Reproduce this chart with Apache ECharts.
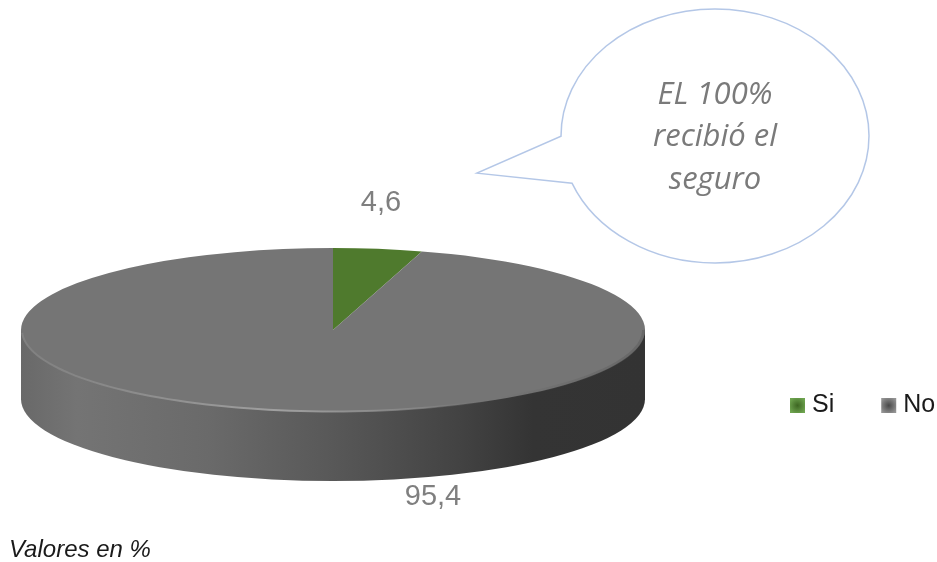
<!DOCTYPE html>
<html><head><meta charset="utf-8">
<style>html,body{margin:0;padding:0;background:#fff}#c{width:937px;height:562px}</style>
<script src="https://cdn.jsdelivr.net/npm/echarts@6/dist/echarts.min.js"></script>
</head><body><div id="c"></div>
<script>
const categories = ['Si', 'No'];
const values = [4.6, 95.4];
const valueLabels = ['4,6', '95,4'];
const sliceColors = ['#4f7a2d', '#757575'];
const bubbleLines = ['EL 100%', 'recibió el', 'seguro'];
const footnote = 'Valores en %';

const layout = {cx: 333, cy: 330, rx: 312, ry: 82, depth: 69};
const labelAt = [[381, 203], [433, 497]];
const total = values.reduce((a, b) => a + b, 0);
const LG = echarts.graphic.LinearGradient, RG = echarts.graphic.RadialGradient;

function sideFill() {
  return new LG(0, 0, 1, 0, [
    {offset: 0, color: '#696969'}, {offset: 0.09, color: '#747474'},
    {offset: 0.3, color: '#6a6a6a'}, {offset: 0.5, color: '#585858'},
    {offset: 0.7, color: '#434343'}, {offset: 0.82, color: '#343434'},
    {offset: 1, color: '#333333'}
  ]);
}
function rimPoints(rx, ry, from, to) {
  const pts = [];
  for (let a = from; a >= to; a -= 2) {
    const t = a * Math.PI / 180;
    pts.push([layout.cx + rx * Math.cos(t), layout.cy + ry * Math.sin(t)]);
  }
  return pts;
}
function sliceItem(i) {
  return function (params, api) {
    const v = api.value(0);
    const before = values.slice(0, i).reduce((a, b) => a + b, 0);
    const start = -Math.PI / 2 + before / total * 2 * Math.PI;
    const end = start + v / total * 2 * Math.PI;
    const {cx, cy, rx, ry, depth} = layout;
    const k = ry / rx;
    const children = [];
    if (i === 1) {
      children.push({type: 'group', x: cx, y: cy + depth, scaleY: k, children: [
        {type: 'sector', shape: {cx: 0, cy: 0, r: rx, r0: 0, startAngle: 0, endAngle: Math.PI}, style: {fill: sideFill()}}
      ]});
      children.push({type: 'rect', shape: {x: cx - rx, y: cy, width: 2 * rx, height: depth + 1}, style: {fill: sideFill()}});
    }
    children.push({type: 'group', x: cx, y: cy, scaleY: k, children: [
      {type: 'sector', shape: {cx: 0, cy: 0, r: rx, r0: 0, startAngle: start, endAngle: end}, style: {fill: sliceColors[i]}}
    ]});
    if (i === 1) {
      children.push({type: 'polyline', shape: {points: rimPoints(rx - 1, ry - 0.5, 178, 60)}, style: {
        fill: null, lineWidth: 2,
        stroke: new LG(0, 0, 1, 0, [
          {offset: 0, color: 'rgba(150,150,150,0.35)'},
          {offset: 0.55, color: 'rgba(165,165,165,0.9)'},
          {offset: 0.85, color: 'rgba(150,150,150,0.5)'},
          {offset: 1, color: 'rgba(120,120,120,0)'}
        ])
      }});
      children.push({type: 'polyline', shape: {points: rimPoints(rx - 1.5, ry - 1, 58, 0)}, style: {
        fill: null, lineWidth: 3,
        stroke: new LG(0, 0, 1, 0, [
          {offset: 0, color: 'rgba(90,90,90,0)'},
          {offset: 1, color: 'rgba(90,90,90,0.5)'}
        ])
      }});
    }
    children.push({type: 'text', style: {
      x: labelAt[i][0], y: labelAt[i][1], text: valueLabels[i], align: 'center', verticalAlign: 'middle',
      font: '29px "Liberation Sans"', fill: '#7f7f7f'
    }});
    return {type: 'group', children};
  };
}
function bubbleItem() {
  return {type: 'group', children: [
    {type: 'path', shape: {pathData: 'M561 137 A154 127 0 1 1 572 184 L477 174 Z', x: 477, y: 9, width: 392, height: 254, layout: 'cover'},
      style: {fill: '#ffffff', stroke: '#b4c7e7', lineWidth: 1.5}},
    ...bubbleLines.map((t, i) => ({type: 'text', style: {
      x: 715, y: 95 + i * 42.5, text: t, align: 'center', verticalAlign: 'middle',
      font: 'italic 31px "Open Sans"', fill: '#7a7a7a'
    }}))
  ]};
}
const legendFills = [
  new RG(0.5, 0.5, 0.6, [{offset: 0, color: '#3d6622'}, {offset: 1, color: '#6fa550'}]),
  new RG(0.5, 0.5, 0.6, [{offset: 0, color: '#484848'}, {offset: 1, color: '#949494'}])
];
const chart = echarts.init(document.getElementById('c'), null, {renderer: 'canvas'});
chart.setOption({
  animation: false,
  backgroundColor: '#ffffff',
  legend: {
    left: 790, top: 393, padding: 0, orient: 'horizontal', width: 147,
    itemWidth: 15, itemHeight: 15, itemGap: 47, icon: 'rect',
    selectedMode: false,
    textStyle: {fontFamily: 'Liberation Sans', fontSize: 25, color: '#1a1a1a', padding: [0, 0, 0, 2]},
    data: categories.map((n, i) => ({name: n, itemStyle: {color: legendFills[i]}}))
  },
  series: categories.map((n, i) => ({
    type: 'custom', name: n, coordinateSystem: 'none', silent: true,
    itemStyle: {color: sliceColors[i]},
    data: [[values[i]]],
    renderItem: sliceItem(i)
  })).concat([{
    type: 'custom', name: 'callout', coordinateSystem: 'none', silent: true,
    data: [[100]], renderItem: bubbleItem
  }]),
  graphic: [
    {type: 'text', style: {x: 9, y: 550, text: footnote, verticalAlign: 'middle', font: 'italic 24px "Liberation Sans"', fill: '#1a1a1a'}}
  ]
});
</script></body></html>
